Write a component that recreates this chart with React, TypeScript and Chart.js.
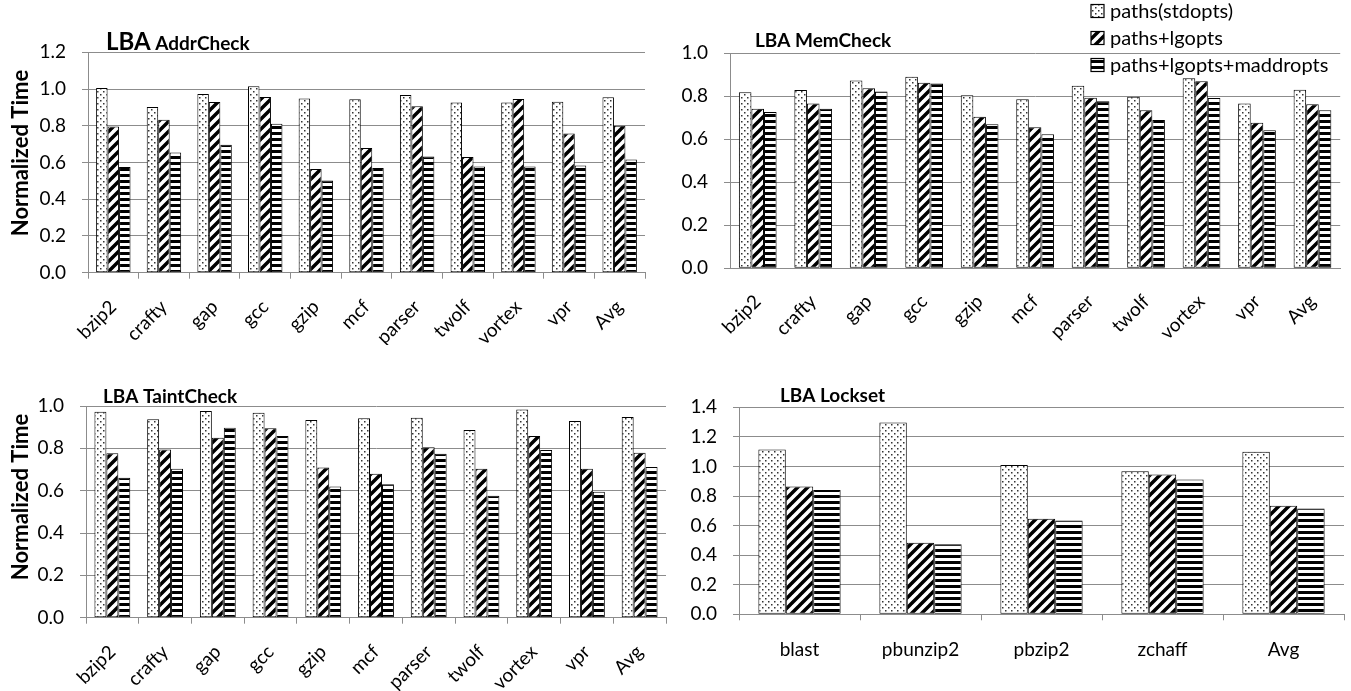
import React, { useEffect, useRef } from 'react';
import { Chart, registerables } from 'chart.js';
Chart.register(...registerables);

const SERIES = ['paths(stdopts)', 'paths+lgopts', 'paths+lgopts+maddropts'];
const SPEC_CATS = ['bzip2', 'crafty', 'gap', 'gcc', 'gzip', 'mcf', 'parser', 'twolf', 'vortex', 'vpr', 'Avg'];
const LOCK_CATS = ['blast', 'pbunzip2', 'pbzip2', 'zchaff', 'Avg'];

const addrStd = [1.006, 0.902, 0.973, 1.015, 0.949, 0.944, 0.968, 0.927, 0.927, 0.931, 0.955];
const addrLg = [0.796, 0.833, 0.93, 0.957, 0.564, 0.679, 0.906, 0.63, 0.946, 0.758, 0.8];
const addrMadd = [0.575, 0.655, 0.697, 0.811, 0.502, 0.57, 0.633, 0.578, 0.578, 0.584, 0.617];

const memStd = [0.819, 0.829, 0.874, 0.891, 0.805, 0.786, 0.849, 0.798, 0.884, 0.766, 0.831];
const memLg = [0.742, 0.767, 0.837, 0.863, 0.705, 0.656, 0.793, 0.735, 0.87, 0.677, 0.763];
const memMadd = [0.727, 0.742, 0.822, 0.86, 0.67, 0.623, 0.777, 0.69, 0.792, 0.642, 0.735];

const taintStd = [0.973, 0.937, 0.976, 0.968, 0.934, 0.942, 0.945, 0.887, 0.983, 0.929, 0.948];
const taintLg = [0.777, 0.795, 0.85, 0.895, 0.71, 0.68, 0.805, 0.704, 0.858, 0.704, 0.779];
const taintMadd = [0.661, 0.704, 0.897, 0.858, 0.62, 0.63, 0.775, 0.576, 0.792, 0.595, 0.712];

const lockStd = [1.115, 1.297, 1.009, 0.968, 1.099];
const lockLg = [0.865, 0.484, 0.646, 0.946, 0.734];
const lockMadd = [0.84, 0.473, 0.635, 0.912, 0.716];

const Y_MAX_ADDR = 1.2;
const Y_MAX_MEM = 1.0;
const Y_MAX_TAINT = 1.0;
const Y_MAX_LOCK = 1.4;
const Y_STEP = 0.2;
const Y_TITLE = 'Normalized Time';

const FONT = 'Lato';
const GRID = '#8c8c8c';

function makePattern(kind: string): CanvasPattern | string {
  const c = document.createElement('canvas');
  const ctx = c.getContext('2d');
  if (!ctx) return '#fff';
  if (kind === 'dots') {
    c.width = 6; c.height = 6;
    ctx.fillStyle = '#fff'; ctx.fillRect(0, 0, 6, 6);
    ctx.fillStyle = '#333';
    ctx.fillRect(1, 1, 1.5, 1.5);
    ctx.fillRect(4, 4, 1.5, 1.5);
  } else if (kind === 'diag') {
    const T = 10;
    c.width = T; c.height = T;
    ctx.fillStyle = '#fff'; ctx.fillRect(0, 0, T, T);
    ctx.strokeStyle = '#000'; ctx.lineWidth = 3.5;
    ctx.beginPath();
    for (let k = -1; k <= 1; k++) {
      ctx.moveTo(k * T - 1, T + 1);
      ctx.lineTo(k * T + T + 1, -1);
    }
    ctx.stroke();
  } else {
    c.width = 4; c.height = 6;
    ctx.fillStyle = '#fff'; ctx.fillRect(0, 0, 4, 6);
    ctx.fillStyle = '#000'; ctx.fillRect(0, 0, 4, 3);
  }
  const p = ctx.createPattern(c, 'repeat');
  return p || '#fff';
}

type Box = { cx: number; cy: number; cw: number; ch: number; L: number; R: number; T: number; B: number };

const decorPlugin = {
  id: 'decor',
  afterDraw(chart: any, _args: any, opts: any) {
    const ctx = chart.ctx;
    ctx.save();
    ctx.fillStyle = '#000';
    ctx.textBaseline = 'alphabetic';
    ctx.textAlign = 'left';
    if (opts.title) {
      let x = opts.title.x;
      for (const part of opts.title.parts) {
        ctx.font = `bold ${part.size}px ${FONT}`;
        ctx.fillText(part.text, x, opts.title.y);
        x += ctx.measureText(part.text).width;
      }
    }
    if (opts.yTitle) {
      ctx.save();
      ctx.translate(opts.yTitle.x, opts.yTitle.y);
      ctx.rotate(-Math.PI / 2);
      ctx.font = `bold 22px ${FONT}`;
      ctx.textAlign = 'center';
      ctx.textBaseline = 'middle';
      ctx.fillText(Y_TITLE, 0, 0);
      ctx.restore();
    }
    if (opts.legend) {
      const lg = opts.legend;
      chart.data.datasets.forEach((ds: any, i: number) => {
        const y = lg.y + i * lg.gap;
        ctx.fillStyle = ds.backgroundColor;
        ctx.fillRect(lg.x, y - 6.5, 13, 13);
        ctx.strokeStyle = '#000';
        ctx.lineWidth = 1.2;
        ctx.strokeRect(lg.x, y - 6.5, 13, 13);
        ctx.fillStyle = '#000';
        ctx.font = `20px ${FONT}`;
        ctx.textBaseline = 'middle';
        ctx.textAlign = 'left';
        ctx.fillText(ds.label, lg.x + 19, y + 1);
      });
    }
    ctx.restore();
  },
};

function BarPanel(props: {
  box: Box; cats: string[]; a: number[]; b: number[]; c: number[]; yMax: number;
  rotate: boolean; xTicks: boolean; labelPad: number; decor: any;
}) {
  const ref = useRef<HTMLCanvasElement | null>(null);
  useEffect(() => {
    const el = ref.current;
    if (!el) return;
    const { box } = props;
    const pats = [makePattern('dots'), makePattern('diag'), makePattern('hstripe')];
    const vals = [props.a, props.b, props.c];
    const chart = new Chart(el, {
      type: 'bar',
      data: {
        labels: props.cats,
        datasets: SERIES.map((s, i) => ({
          label: s,
          data: vals[i],
          backgroundColor: pats[i] as any,
          borderColor: '#000',
          borderWidth: 1,
          borderSkipped: false,
          barPercentage: 1.0,
          categoryPercentage: 0.68,
        })),
      },
      options: {
        animation: false,
        responsive: false,
        layout: {
          padding: { left: 0, top: box.T - box.cy, right: box.cx + box.cw - box.R, bottom: 0 },
        },
        plugins: {
          legend: { display: false },
          tooltip: { enabled: false },
          title: { display: false },
          decor: props.decor,
        } as any,
        scales: {
          x: {
            grid: {
              drawOnChartArea: false,
              drawTicks: props.xTicks,
              tickLength: 6,
              color: GRID,
              offset: true,
            },
            border: { color: GRID, width: 1 },
            ticks: {
              color: '#000',
              font: { family: FONT, size: 19 },
              minRotation: props.rotate ? 45 : 0,
              maxRotation: props.rotate ? 45 : 0,
              autoSkip: false,
              padding: props.labelPad,
            },
            afterFit: (s: any) => { s.height = box.cy + box.ch - box.B; },
          },
          y: {
            min: 0,
            max: props.yMax,
            grid: { color: GRID, lineWidth: 1, drawTicks: true, tickLength: 6 },
            border: { color: GRID, width: 1 },
            ticks: {
              stepSize: Y_STEP,
              color: '#000',
              font: { family: FONT, size: 19 },
              padding: 16,
              callback: (v: any) => Number(v).toFixed(1),
            },
            afterFit: (s: any) => { s.width = box.L - box.cx; },
          },
        },
      },
      plugins: [decorPlugin as any],
    });
    return () => chart.destroy();
  }, []);
  const { box } = props;
  return (
    <canvas
      ref={ref}
      width={box.cw}
      height={box.ch}
      style={{ position: 'absolute', left: box.cx, top: box.cy, width: box.cw, height: box.ch }}
    />
  );
}

export default function App() {
  const tl: Box = { cx: 0, cy: 0, cw: 680, ch: 345, L: 88, R: 645, T: 52.3, B: 272.7 };
  const tr: Box = { cx: 680, cy: 0, cw: 671, ch: 345, L: 730, R: 1342, T: 53.3, B: 268.3 };
  const bl: Box = { cx: 0, cy: 345, cw: 680, ch: 346, L: 86, R: 666, T: 406, B: 617.7 };
  const br: Box = { cx: 680, cy: 345, cw: 671, ch: 346, L: 739, R: 1344, T: 407.3, B: 614.3 };
  return (
    <div style={{ position: 'absolute', left: 0, top: 0, width: 1351, height: 691, background: '#fff', overflow: 'hidden' }}>
      <BarPanel box={tl} cats={SPEC_CATS} a={addrStd} b={addrLg} c={addrMadd} yMax={Y_MAX_ADDR}
        rotate={true} xTicks={true} labelPad={17}
        decor={{ title: { x: 106, y: 50, parts: [{ text: 'LBA', size: 24 }, { text: ' AddrCheck', size: 19 }] }, yTitle: { x: 21, y: 153 } }} />
      <BarPanel box={tr} cats={SPEC_CATS} a={memStd} b={memLg} c={memMadd} yMax={Y_MAX_MEM}
        rotate={true} xTicks={false} labelPad={22}
        decor={{ title: { x: 75, y: 47, parts: [{ text: 'LBA MemCheck', size: 19 }] }, legend: { x: 411, y: 11, gap: 27 } }} />
      <BarPanel box={bl} cats={SPEC_CATS} a={taintStd} b={taintLg} c={taintMadd} yMax={Y_MAX_TAINT}
        rotate={true} xTicks={true} labelPad={17}
        decor={{ title: { x: 103, y: 58, parts: [{ text: 'LBA TaintCheck', size: 19 }] }, yTitle: { x: 21, y: 152 } }} />
      <BarPanel box={br} cats={LOCK_CATS} a={lockStd} b={lockLg} c={lockMadd} yMax={Y_MAX_LOCK}
        rotate={false} xTicks={true} labelPad={18}
        decor={{ title: { x: 100, y: 57, parts: [{ text: 'LBA Lockset', size: 19 }] } }} />
    </div>
  );
}
